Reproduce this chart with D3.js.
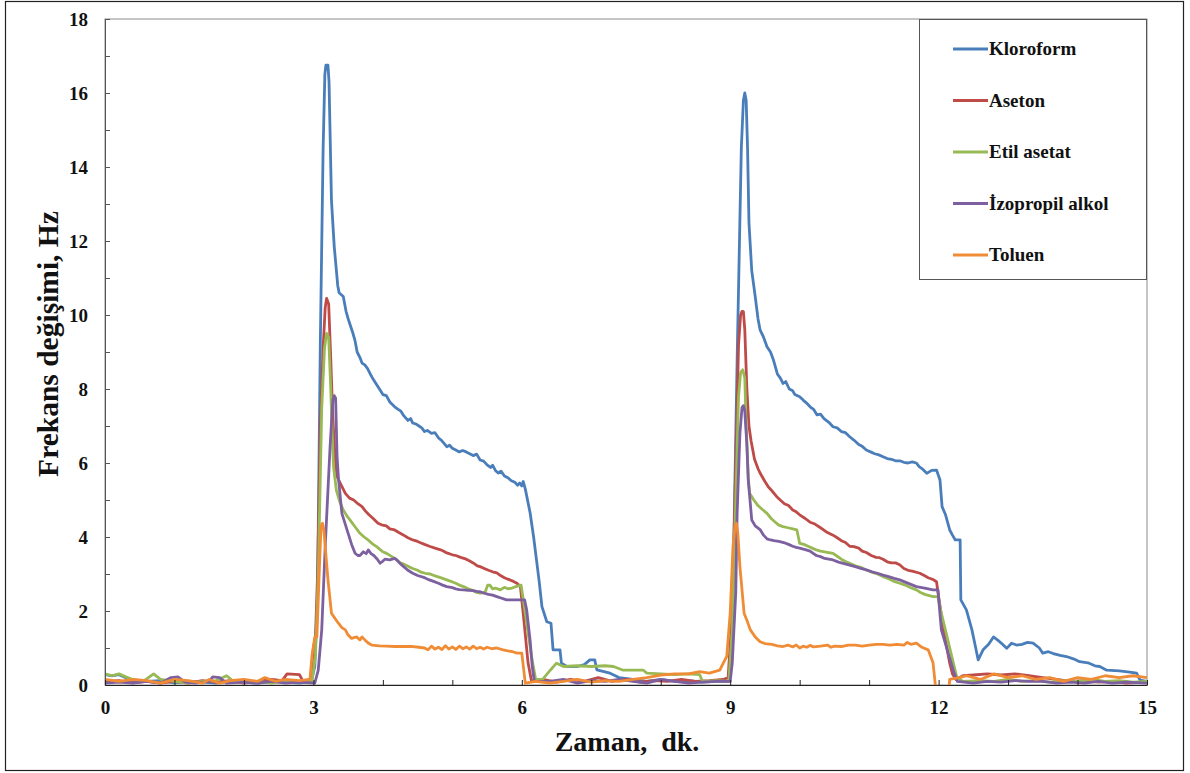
<!DOCTYPE html>
<html><head><meta charset="utf-8">
<script src="https://cdn.jsdelivr.net/npm/d3@7"></script>
<style>body{margin:0;background:#fff;} text{font-family:"Liberation Serif","Times New Roman",serif;font-weight:bold;}</style>
</head><body><svg id="c" width="1190" height="773"></svg>
<script>
const seriesNames = ["Kloroform","Aseton","Etil asetat","İzopropil alkol","Toluen"];
const seriesColors = ["#4A7EBB","#BE4B48","#98B954","#7D60A0","#F08C35"];
const xTickLabels = [0,3,6,9,12,15];
const yTickLabels = [0,2,4,6,8,10,12,14,16,18];

const kloroform = [[0,0.28],[0.1,0.25],[0.2,0.28],[0.3,0.2],[0.4,0.12],[0.6,0.1],[0.8,0.12],[1.0,0.06],[1.2,0.1],[1.4,0.08],[1.6,0.05],[1.8,0.1],[2.0,0.08],[2.2,0.05],[2.4,0.1],[2.6,0.08],[2.8,0.05],[2.97,0.1],
[3.02,0.5],[3.06,2.5],[3.1,9.3],[3.14,14.5],[3.165,16.5],[3.18,16.75],[3.21,16.75],[3.225,16.3],[3.26,13.1],[3.30,11.85],[3.35,10.8],[3.37,10.6],[3.43,10.5],[3.47,10.1],[3.5,9.9],[3.57,9.5],[3.6,9.3],[3.63,9.0],[3.67,8.85],[3.7,8.7],[3.74,8.65],[3.78,8.55],[3.82,8.4],[3.85,8.3],[3.9,8.15],[3.96,7.97],[4.0,7.85],[4.05,7.82],[4.1,7.65],[4.17,7.52],[4.22,7.45],[4.26,7.4],[4.3,7.28],[4.36,7.15],[4.4,7.2],[4.43,7.08],[4.48,7.05],[4.52,7.0],[4.56,6.95],[4.6,6.85],[4.64,6.88],[4.7,6.8],[4.75,6.82],[4.8,6.68],[4.85,6.6],[4.92,6.44],[4.96,6.48],[5.0,6.4],[5.05,6.35],[5.1,6.3],[5.15,6.34],[5.2,6.3],[5.25,6.25],[5.3,6.2],[5.35,6.24],[5.4,6.08],[5.45,6.05],[5.5,5.95],[5.55,5.88],[5.58,5.94],[5.62,5.8],[5.66,5.73],[5.7,5.78],[5.75,5.65],[5.8,5.6],[5.85,5.52],[5.9,5.48],[5.94,5.4],[5.97,5.46],[6.0,5.38],[6.02,5.5],[6.05,5.3],[6.12,4.65],[6.17,4.0],[6.21,3.4],[6.25,2.8],[6.29,2.12],[6.36,1.71],[6.42,1.67],[6.45,0.95],[6.55,0.95],[6.57,0.59],[6.65,0.5],[6.8,0.5],[6.9,0.55],[6.98,0.68],[7.05,0.68],[7.08,0.41],[7.27,0.32],[7.4,0.2],[7.6,0.15],[7.8,0.1],[8.0,0.15],[8.2,0.1],[8.4,0.12],[8.6,0.08],[8.8,0.1],[8.98,0.1],
[9.03,1.5],[9.1,8.8],[9.16,14.5],[9.19,15.8],[9.21,16.0],[9.23,15.8],[9.25,14.5],[9.27,12.5],[9.31,11.2],[9.36,10.5],[9.4,9.9],[9.43,9.6],[9.48,9.4],[9.53,9.14],[9.58,9.0],[9.62,8.8],[9.68,8.4],[9.72,8.3],[9.76,8.15],[9.8,8.2],[9.85,8.0],[9.9,7.95],[9.93,7.85],[10.0,7.79],[10.05,7.7],[10.1,7.62],[10.15,7.52],[10.2,7.45],[10.25,7.3],[10.3,7.32],[10.35,7.2],[10.42,7.1],[10.48,6.98],[10.54,6.95],[10.6,6.85],[10.66,6.82],[10.72,6.71],[10.78,6.62],[10.85,6.5],[10.9,6.45],[10.96,6.35],[11.02,6.3],[11.08,6.25],[11.14,6.22],[11.2,6.17],[11.26,6.12],[11.32,6.1],[11.38,6.06],[11.44,6.06],[11.5,6.02],[11.56,6.0],[11.62,6.03],[11.68,6.0],[11.72,5.9],[11.76,5.85],[11.83,5.72],[11.9,5.8],[11.97,5.81],[12.02,5.54],[12.05,4.82],[12.1,4.6],[12.16,4.19],[12.2,4.05],[12.24,3.92],[12.31,3.92],[12.32,2.3],[12.4,2.03],[12.48,1.49],[12.55,0.86],[12.57,0.68],[12.64,0.95],[12.72,1.1],[12.79,1.3],[12.86,1.2],[12.92,1.1],[12.98,0.99],[13.05,1.13],[13.12,1.08],[13.2,1.1],[13.28,1.15],[13.36,1.13],[13.45,1.0],[13.5,0.86],[13.58,0.9],[13.65,0.85],[13.75,0.8],[13.84,0.77],[13.95,0.7],[14.03,0.63],[14.15,0.6],[14.25,0.52],[14.32,0.5],[14.42,0.4],[14.6,0.38],[14.75,0.35],[14.85,0.32],[14.9,0.13],[15.0,0.1]];

const aseton = [[0,0.1],[0.2,0.12],[0.4,0.06],[0.6,0.1],[0.8,0.05],[1.0,0.1],[1.2,0.05],[1.4,0.12],[1.6,0.08],[1.8,0.12],[2.0,0.05],[2.2,0.1],[2.4,0.15],[2.55,0.12],[2.62,0.3],[2.8,0.28],[2.85,0.1],[2.96,0.15],[3.0,1.0],[3.03,1.3],[3.06,3],[3.1,7],[3.14,9.1],[3.17,10.2],[3.19,10.45],[3.22,10.3],[3.25,8.8],[3.28,7.2],[3.31,6.2],[3.34,5.63],[3.4,5.4],[3.46,5.18],[3.52,5.05],[3.58,5.0],[3.64,4.9],[3.7,4.82],[3.75,4.7],[3.8,4.6],[3.86,4.5],[3.93,4.37],[3.98,4.33],[4.05,4.3],[4.1,4.22],[4.17,4.19],[4.23,4.12],[4.3,4.05],[4.36,3.98],[4.43,3.92],[4.5,3.88],[4.55,3.84],[4.6,3.8],[4.67,3.75],[4.75,3.7],[4.82,3.66],[4.87,3.62],[4.92,3.57],[5.0,3.52],[5.05,3.5],[5.12,3.45],[5.2,3.4],[5.25,3.35],[5.3,3.3],[5.36,3.22],[5.4,3.2],[5.46,3.15],[5.52,3.1],[5.58,3.06],[5.64,3.03],[5.7,2.95],[5.75,2.9],[5.8,2.86],[5.83,2.84],[5.88,2.8],[5.93,2.75],[5.98,2.66],[6.02,1.94],[6.09,0.6],[6.14,0.1],[6.3,0.15],[6.5,0.08],[6.7,0.15],[6.9,0.1],[7.1,0.2],[7.3,0.1],[7.5,0.15],[7.7,0.08],[7.9,0.12],[8.1,0.1],[8.3,0.15],[8.5,0.1],[8.7,0.12],[8.9,0.15],[8.97,0.2],[9.03,2],[9.08,6],[9.12,9.2],[9.15,10.0],[9.17,10.1],[9.19,10.09],[9.21,9.6],[9.24,8.0],[9.27,7.0],[9.3,6.6],[9.35,6.1],[9.4,5.85],[9.43,5.73],[9.5,5.5],[9.55,5.35],[9.6,5.25],[9.67,5.09],[9.72,5.0],[9.78,4.9],[9.84,4.85],[9.9,4.73],[9.95,4.68],[10.0,4.6],[10.08,4.5],[10.15,4.4],[10.22,4.35],[10.3,4.25],[10.4,4.12],[10.48,4.05],[10.54,3.98],[10.6,3.9],[10.66,3.85],[10.72,3.75],[10.78,3.74],[10.85,3.7],[10.9,3.62],[10.96,3.58],[11.03,3.5],[11.1,3.45],[11.15,3.44],[11.2,3.4],[11.26,3.33],[11.32,3.3],[11.38,3.3],[11.44,3.25],[11.5,3.15],[11.56,3.1],[11.62,3.08],[11.73,3.02],[11.8,2.95],[11.85,2.9],[11.92,2.85],[11.97,2.79],[12.03,2.0],[12.07,1.49],[12.16,0.59],[12.2,0.3],[12.25,0.15],[12.35,0.25],[12.5,0.27],[12.7,0.3],[12.9,0.27],[13.1,0.3],[13.3,0.25],[13.5,0.2],[13.7,0.15],[13.9,0.1],[14.1,0.12],[14.3,0.08],[14.5,0.1],[14.7,0.05],[15,0.08]];

const etilAsetat = [[0,0.3],[0.1,0.25],[0.2,0.3],[0.3,0.22],[0.4,0.15],[0.55,0.1],[0.7,0.3],[0.8,0.15],[1.0,0.1],[1.2,0.05],[1.4,0.1],[1.6,0.12],[1.75,0.25],[1.85,0.1],[2.0,0.08],[2.2,0.1],[2.4,0.05],[2.6,0.12],[2.8,0.1],[2.98,0.1],[3.03,0.8],[3.07,3],[3.12,7.5],[3.16,9.1],[3.19,9.5],[3.22,9.4],[3.25,8.0],[3.27,6.8],[3.29,5.9],[3.33,5.27],[3.38,4.95],[3.43,4.73],[3.49,4.55],[3.55,4.4],[3.61,4.25],[3.67,4.1],[3.73,4.0],[3.8,3.9],[3.86,3.8],[3.91,3.74],[4.0,3.6],[4.06,3.55],[4.13,3.47],[4.19,3.4],[4.25,3.3],[4.31,3.26],[4.37,3.2],[4.43,3.15],[4.5,3.1],[4.55,3.05],[4.61,3.02],[4.68,3.0],[4.75,2.95],[4.83,2.9],[4.92,2.84],[4.98,2.8],[5.05,2.75],[5.1,2.7],[5.16,2.66],[5.23,2.6],[5.3,2.55],[5.35,2.5],[5.4,2.48],[5.47,2.5],[5.51,2.7],[5.54,2.7],[5.58,2.6],[5.62,2.62],[5.69,2.57],[5.75,2.64],[5.8,2.6],[5.86,2.62],[5.9,2.65],[5.99,2.7],[6.05,1.94],[6.14,0.77],[6.2,0.15],[6.3,0.15],[6.41,0.4],[6.5,0.59],[6.6,0.5],[6.8,0.52],[7.0,0.5],[7.2,0.52],[7.32,0.5],[7.46,0.4],[7.75,0.4],[7.8,0.32],[8.0,0.3],[8.2,0.28],[8.4,0.3],[8.56,0.28],[8.6,0.1],[8.8,0.12],[8.98,0.1],[9.03,1.5],[9.08,5],[9.12,7.8],[9.15,8.45],[9.18,8.52],[9.21,8.3],[9.23,7.0],[9.26,5.6],[9.28,5.18],[9.34,5.0],[9.4,4.85],[9.46,4.75],[9.53,4.64],[9.59,4.5],[9.65,4.4],[9.7,4.32],[9.76,4.28],[9.83,4.25],[9.9,4.22],[9.96,4.19],[10.0,3.83],[10.06,3.8],[10.12,3.75],[10.18,3.7],[10.24,3.65],[10.3,3.62],[10.36,3.6],[10.42,3.58],[10.48,3.56],[10.54,3.48],[10.6,3.4],[10.66,3.34],[10.72,3.29],[10.8,3.22],[10.88,3.18],[10.96,3.11],[11.04,3.05],[11.12,3.0],[11.2,2.93],[11.28,2.87],[11.36,2.8],[11.44,2.75],[11.52,2.7],[11.6,2.63],[11.68,2.57],[11.74,2.5],[11.8,2.45],[11.92,2.39],[11.99,2.39],[12.04,1.94],[12.19,0.77],[12.26,0.22],[12.35,0.1],[12.6,0.12],[12.8,0.1],[13.0,0.15],[13.2,0.1],[13.4,0.12],[13.6,0.08],[13.8,0.12],[14.0,0.1],[14.2,0.15],[14.4,0.1],[14.6,0.12],[14.8,0.08],[15,0.1]];

const izopropil = [[0,0.05],[0.2,0.08],[0.4,0.05],[0.6,0.1],[0.8,0.05],[0.95,0.2],[1.05,0.22],[1.15,0.08],[1.3,0.05],[1.5,0.1],[1.55,0.22],[1.65,0.2],[1.75,0.05],[2.0,0.08],[2.2,0.05],[2.4,0.1],[2.6,0.05],[2.8,0.08],[3.02,0.05],[3.07,0.4],[3.12,1.49],[3.17,3.74],[3.24,6.44],[3.28,7.7],[3.3,7.82],[3.32,7.75],[3.34,6.2],[3.36,5.6],[3.41,4.64],[3.5,4.1],[3.55,3.8],[3.6,3.56],[3.64,3.5],[3.67,3.5],[3.72,3.6],[3.76,3.55],[3.79,3.65],[3.83,3.55],[3.87,3.5],[3.92,3.4],[3.96,3.29],[4.0,3.35],[4.03,3.4],[4.1,3.38],[4.17,3.42],[4.2,3.38],[4.25,3.28],[4.3,3.2],[4.36,3.1],[4.43,3.02],[4.5,2.96],[4.6,2.9],[4.67,2.84],[4.73,2.8],[4.8,2.75],[4.86,2.7],[4.92,2.66],[5.0,2.63],[5.05,2.6],[5.1,2.58],[5.16,2.57],[5.23,2.56],[5.3,2.55],[5.35,2.53],[5.4,2.52],[5.46,2.48],[5.52,2.45],[5.58,2.43],[5.64,2.39],[5.7,2.35],[5.78,2.3],[5.88,2.3],[5.97,2.3],[6.04,2.3],[6.07,2.03],[6.12,1.2],[6.15,0.5],[6.18,0.1],[6.4,0.1],[6.6,0.15],[6.8,0.05],[7.0,0.12],[7.2,0.1],[7.4,0.15],[7.6,0.1],[7.8,0.05],[8.0,0.15],[8.2,0.1],[8.4,0.05],[8.6,0.08],[8.8,0.1],[9.0,0.1],[9.03,0.6],[9.08,2.5],[9.1,4.65],[9.14,6.8],[9.17,7.5],[9.19,7.55],[9.21,7.4],[9.24,6.5],[9.26,5.54],[9.31,4.46],[9.36,4.3],[9.43,4.2],[9.48,4.05],[9.53,3.95],[9.58,3.92],[9.63,3.9],[9.7,3.88],[9.77,3.85],[9.84,3.8],[9.9,3.75],[9.95,3.72],[10.0,3.7],[10.08,3.66],[10.15,3.62],[10.2,3.55],[10.24,3.5],[10.3,3.47],[10.36,3.42],[10.42,3.4],[10.48,3.38],[10.56,3.32],[10.64,3.28],[10.72,3.24],[10.8,3.2],[10.88,3.15],[10.96,3.11],[11.04,3.06],[11.12,3.02],[11.2,2.97],[11.28,2.93],[11.36,2.88],[11.44,2.84],[11.52,2.78],[11.6,2.72],[11.68,2.66],[11.8,2.62],[11.92,2.57],[11.99,2.57],[12.04,1.49],[12.21,0.4],[12.27,0.1],[12.5,0.05],[12.7,0.1],[12.9,0.08],[13.1,0.12],[13.3,0.1],[13.5,0.1],[13.7,0.05],[13.9,0.08],[14.1,0.05],[14.3,0.1],[14.5,0.05],[14.7,0.08],[15,0.05]];

const toluen = [[0,0.15],[0.2,0.1],[0.4,0.15],[0.6,0.12],[0.8,0.05],[1.0,0.15],[1.2,0.12],[1.4,0.05],[1.5,0.15],[1.65,0.05],[1.8,0.12],[2.0,0.15],[2.2,0.1],[2.3,0.2],[2.45,0.1],[2.6,0.15],[2.8,0.12],[2.95,0.15],[2.98,0.8],[3.02,1.3],[3.05,1.3],[3.08,2.84],[3.11,4.3],[3.13,4.37],[3.15,4.2],[3.21,2.84],[3.26,1.94],[3.31,1.8],[3.36,1.67],[3.41,1.55],[3.46,1.49],[3.5,1.35],[3.55,1.26],[3.62,1.3],[3.67,1.22],[3.7,1.3],[3.75,1.2],[3.8,1.12],[3.84,1.08],[3.95,1.06],[4.05,1.05],[4.17,1.04],[4.3,1.04],[4.43,1.04],[4.52,1.02],[4.6,1.0],[4.65,0.95],[4.7,1.05],[4.75,0.97],[4.8,1.02],[4.85,0.96],[4.9,1.06],[4.95,0.97],[5.0,1.03],[5.05,0.96],[5.1,1.05],[5.15,0.98],[5.2,1.03],[5.25,0.97],[5.3,1.05],[5.35,0.98],[5.4,1.02],[5.45,0.97],[5.5,1.02],[5.57,0.98],[5.64,1.0],[5.73,0.95],[5.8,0.92],[5.87,0.9],[5.93,0.86],[6.0,0.86],[6.05,0.05],[6.2,0.1],[6.4,0.05],[6.6,0.1],[6.8,0.15],[7.0,0.08],[7.2,0.12],[7.4,0.1],[7.6,0.15],[7.8,0.2],[8.0,0.27],[8.2,0.3],[8.4,0.3],[8.56,0.36],[8.7,0.32],[8.85,0.4],[8.9,0.59],[8.95,0.77],[9.0,1.94],[9.04,3.74],[9.07,4.3],[9.09,4.37],[9.11,4.1],[9.14,3.2],[9.2,1.94],[9.25,1.7],[9.29,1.49],[9.36,1.3],[9.43,1.17],[9.5,1.12],[9.6,1.1],[9.68,1.06],[9.76,1.04],[9.83,1.08],[9.9,1.03],[9.95,1.08],[10.0,1.0],[10.05,1.05],[10.1,1.02],[10.15,1.07],[10.2,1.03],[10.3,1.05],[10.4,1.08],[10.45,1.02],[10.5,1.05],[10.6,1.04],[10.7,1.08],[10.8,1.08],[10.9,1.05],[11.0,1.08],[11.1,1.1],[11.2,1.1],[11.3,1.08],[11.4,1.1],[11.5,1.08],[11.55,1.15],[11.6,1.1],[11.68,1.13],[11.76,1.02],[11.85,0.95],[11.92,0.6],[11.97,-0.3],[12.14,-0.3],[12.16,0.15],[12.3,0.2],[12.4,0.25],[12.6,0.15],[12.8,0.3],[13.0,0.2],[13.2,0.25],[13.4,0.15],[13.6,0.2],[13.8,0.1],[14.0,0.2],[14.2,0.15],[14.4,0.25],[14.6,0.2],[14.8,0.25],[15,0.2]];

const allSeries = [kloroform, aseton, etilAsetat, izopropil, toluen];

const svg = d3.select("#c");
svg.append("rect").attr("x",5.5).attr("y",1.5).attr("width",1178).attr("height",769)
  .attr("fill","none").attr("stroke","#222").attr("stroke-width",1.2);

const x = d3.scaleLinear().domain([0,15]).range([105,1147]);
const y = d3.scaleLinear().domain([0,18]).range([685,19]);

svg.append("defs").append("clipPath").attr("id","clip").append("rect")
  .attr("x",105).attr("y",10).attr("width",1042).attr("height",675);

svg.append("rect").attr("x",105).attr("y",19).attr("width",1042).attr("height",666)
  .attr("fill","none").attr("stroke","#8c8c8c").attr("stroke-width",1);

const line = d3.line().x(d=>x(d[0])).y(d=>y(d[1]));
const g = svg.append("g").attr("clip-path","url(#clip)");
allSeries.forEach((s,i)=>{
  g.append("path").datum(s).attr("d",line).attr("fill","none")
   .attr("stroke",seriesColors[i]).attr("stroke-width",2.8).attr("stroke-linejoin","round");
});

const yAxis = d3.axisLeft(y).tickValues(d3.range(0,19)).tickSize(-5).tickSizeOuter(0).tickPadding(17)
  .tickFormat(d=> yTickLabels.includes(d) ? d : "");
const ya = svg.append("g").attr("transform","translate(105,0)").call(yAxis);
ya.selectAll("text").attr("font-size",19).attr("fill","#111");
ya.select(".domain").attr("stroke","#555");
ya.selectAll(".tick line").attr("stroke","#555");

const xAxis = d3.axisBottom(x).tickValues(d3.range(0,16)).tickSize(-5).tickSizeOuter(0).tickPadding(16)
  .tickFormat(d=> xTickLabels.includes(d) ? d : "");
const xa = svg.append("g").attr("transform","translate(0,685)").call(xAxis);
xa.selectAll("text").attr("font-size",19).attr("fill","#111");
xa.select(".domain").attr("stroke","#222");
xa.selectAll(".tick line").attr("stroke","#222");

svg.append("text").attr("x",627).attr("y",751).attr("text-anchor","middle").style("white-space","pre")
  .attr("font-size",28).attr("fill","#111").text("Zaman,  dk.");
svg.append("text").attr("transform","translate(58,344) rotate(-90)").attr("text-anchor","middle")
  .attr("font-size",29.5).attr("fill","#111").text("Frekans değişimi, Hz");

svg.append("rect").attr("x",919.5).attr("y",19.5).attr("width",227).attr("height",260)
  .attr("fill","#fff").attr("stroke","#555").attr("stroke-width",1);
seriesNames.forEach((n,i)=>{
  const yy = 49 + i*51.5;
  svg.append("line").attr("x1",953).attr("x2",988).attr("y1",yy).attr("y2",yy)
    .attr("stroke",seriesColors[i]).attr("stroke-width",2.8);
  svg.append("text").attr("x",989).attr("y",yy+6).attr("font-size",19).attr("fill","#111").text(n);
});
</script></body></html>
